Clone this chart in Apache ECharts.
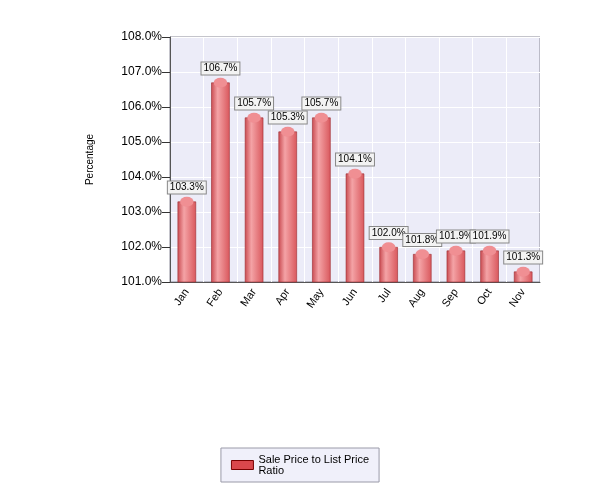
<!DOCTYPE html>
<html>
<head>
<meta charset="utf-8">
<script src="https://cdn.jsdelivr.net/npm/echarts@6/dist/echarts.min.js"></script>
<style>body{margin:0;background:#fff}#c{width:600px;height:500px}</style>
</head>
<body>
<div id="c"></div>
<script>
// values
var months = ['Jan', 'Feb', 'Mar', 'Apr', 'May', 'Jun', 'Jul', 'Aug', 'Sep', 'Oct', 'Nov'];
var ratio = [103.3, 106.7, 105.7, 105.3, 105.7, 104.1, 102.0, 101.8, 101.9, 101.9, 101.3];
var seriesName = 'Sale Price to List Price\nRatio';

var chart = echarts.init(document.getElementById('c'));

var bodyColor = new echarts.graphic.LinearGradient(0, 0, 1, 0, [
    { offset: 0, color: '#c94a50' },
    { offset: 0.35, color: '#f4a3a6' },
    { offset: 1, color: '#d9575c' }
]);

chart.setOption({
    animation: false,
    textStyle: { fontFamily: 'Liberation Sans' },
    grid: { left: 170, right: 60, top: 37, bottom: 218, backgroundColor: '#ececf8', show: true, borderColor: '#8a8a99' },
    legend: {
        bottom: 18, left: 'center',
        itemWidth: 22, itemHeight: 9,
        borderColor: '#9a9aa8', borderWidth: 1, padding: [6, 10],
        backgroundColor: '#f0f0fa',
        textStyle: { fontSize: 11, color: '#000' },
        data: [{ name: seriesName, icon: 'rect', itemStyle: { color: '#d9474c', borderColor: '#700', borderWidth: 1 } }]
    },
    xAxis: {
        type: 'category', data: months,
        axisLine: { lineStyle: { color: '#555' } },
        axisTick: { show: false },
        axisLabel: { rotate: 55, color: '#000', fontSize: 11 },
        splitLine: { show: true, lineStyle: { color: '#ffffff' } }
    },
    yAxis: {
        type: 'value', min: 101, max: 108, interval: 1,
        name: 'Percentage', nameLocation: 'middle', nameGap: 75, nameRotate: 90,
        nameTextStyle: { fontSize: 10, color: '#000' },
        axisLine: { show: true, lineStyle: { color: '#555' } },
        axisTick: { show: true, length: 8, lineStyle: { color: '#333' } },
        axisLabel: { formatter: function (v) { return v.toFixed(1) + '%'; }, fontSize: 12, color: '#000' },
        splitLine: { lineStyle: { color: '#ffffff' } }
    },
    series: [{
        name: seriesName, type: 'bar', data: ratio, barWidth: '55%',
        itemStyle: { color: bodyColor, borderColor: '#9b2a2f', borderWidth: 0.6 },
        label: {
            show: true, position: 'top', distance: 8, fontSize: 10, color: '#000',
            backgroundColor: '#f3f3f3', borderColor: '#888', borderWidth: 1, padding: [1, 2],
            formatter: function (p) { return p.value.toFixed(1) + '%'; }
        }
    }, {
        type: 'pictorialBar', data: ratio, symbol: 'circle', symbolPosition: 'end',
        symbolSize: ['55%', 10], symbolOffset: [0, '-50%'], z: 3,
        itemStyle: { color: '#f08f93', borderColor: '#9b2a2f', borderWidth: 0.6 },
        tooltip: { show: false }
    }, {
        type: 'pictorialBar', data: ratio, symbol: 'circle', symbolPosition: 'start',
        symbolSize: ['55%', 10], symbolOffset: [0, '50%'], z: 1,
        itemStyle: { color: '#d9575c', borderColor: '#9b2a2f', borderWidth: 0.6 },
        tooltip: { show: false }
    }]
});
</script>
</body>
</html>
